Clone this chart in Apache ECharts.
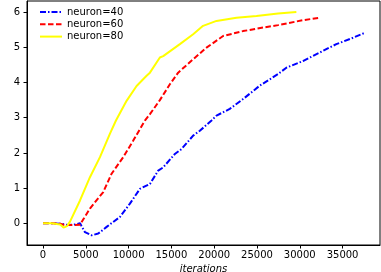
<!DOCTYPE html>
<html>
<head>
<meta charset="utf-8">
<script src="https://cdn.jsdelivr.net/npm/echarts@6/dist/echarts.min.js"></script>
<style>html,body{margin:0;padding:0;background:#fff}#c{width:381px;height:272px}</style>
</head>
<body>
<div id="c"></div>
<script>
var seriesNames = ['neuron=40', 'neuron=60', 'neuron=80'];
var xTicks = [0, 5000, 10000, 15000, 20000, 25000, 30000, 35000];
var yTicks = [0, 1, 2, 3, 4, 5, 6];

var x40 = [0,1000,2000,3000,3800,4320,4900,5680,6450,7430,8980,10150,11320,12490,13460,14040,15400,16180,17540,18320,19690,20270,21820,23370,25320,27460,28430,30370,32320,34270,36210,37490];
var y40 = [0,0,-0.01,-0.05,-0.03,0,-0.25,-0.34,-0.29,-0.1,0.18,0.56,0.98,1.12,1.5,1.59,1.97,2.11,2.49,2.63,2.92,3.06,3.25,3.53,3.91,4.24,4.42,4.61,4.85,5.09,5.27,5.40];

var x60 = [0,1000,2000,2340,3000,4320,4800,5480,7040,8010,9370,10540,11900,12490,13650,14820,15790,17540,19100,21040,23370,25710,27460,30370,32320];
var y60 = [0,0,-0.01,-0.04,-0.05,-0.04,0.15,0.42,0.89,1.41,1.88,2.35,2.92,3.1,3.5,3.95,4.28,4.66,4.99,5.32,5.46,5.56,5.63,5.77,5.84];

var x80 = [0,1000,2000,2400,2800,3150,4320,5480,6650,7820,8520,9760,10930,12100,12490,13650,14040,15990,17540,18700,20270,22600,24940,27460,29600];
var y80 = [0,0,-0.03,-0.12,-0.08,0.05,0.65,1.31,1.88,2.55,2.92,3.48,3.9,4.19,4.28,4.71,4.75,5.09,5.37,5.61,5.75,5.84,5.89,5.96,6.0];

function pairs(xs, ys) { return xs.map(function (x, i) { return [x, ys[i]]; }); }

var font = 'DejaVu Sans';
var chart = echarts.init(document.getElementById('c'), null, {renderer: 'canvas'});
chart.setOption({
  animation: false,
  textStyle: {fontFamily: font},
  grid: {left: 27, right: 1, top: 1, bottom: 27, show: true, borderColor: '#000', borderWidth: 1,
         containLabel: false, outerBoundsMode: 'none'},
  legend: {
    orient: 'vertical', left: 34, top: 2, itemWidth: 22, itemHeight: 8, itemGap: 2.3,
    itemStyle: {opacity: 0},
    textStyle: {fontFamily: font, fontSize: 10, color: '#000'},
    data: seriesNames
  },
  xAxis: {
    type: 'value', min: -1875, max: 39375,
    name: 'iterations', nameLocation: 'middle', nameGap: 17,
    nameTextStyle: {fontFamily: font, fontSize: 10, fontStyle: 'italic', color: '#000'},
    axisLine: {show: true, onZero: false, lineStyle: {color: '#000', width: 1}},
    axisTick: {show: true, length: 3.5, lineStyle: {color: '#000'}, customValues: xTicks},
    axisLabel: {fontFamily: font, fontSize: 10, color: '#000', margin: 5, customValues: xTicks,
                formatter: function (v) { return String(v); }},
    splitLine: {show: false}
  },
  yAxis: {
    type: 'value', min: -0.615, max: 6.315,
    name: 'a', nameLocation: 'middle', nameGap: 24,
    nameTextStyle: {fontFamily: font, fontSize: 10, fontStyle: 'italic', color: '#000'},
    axisLine: {show: true, onZero: false, lineStyle: {color: '#000', width: 1}},
    axisTick: {show: true, length: 3.5, lineStyle: {color: '#000'}, customValues: yTicks},
    axisLabel: {fontFamily: font, fontSize: 10, color: '#000', margin: 7, customValues: yTicks,
                formatter: function (v) { return String(v); }},
    splitLine: {show: false}
  },
  series: [
    {name: seriesNames[0], type: 'line', showSymbol: false, symbol: 'none', data: pairs(x40, y40),
     itemStyle: {color: '#0000ff'}, lineStyle: {color: '#0000ff', width: 2, type: [6, 2, 1.5, 2]}},
    {name: seriesNames[1], type: 'line', showSymbol: false, symbol: 'none', data: pairs(x60, y60),
     itemStyle: {color: '#ff0000'}, lineStyle: {color: '#ff0000', width: 2, type: [5.5, 2.5]}},
    {name: seriesNames[2], type: 'line', showSymbol: false, symbol: 'none', data: pairs(x80, y80),
     itemStyle: {color: '#ffff00'}, lineStyle: {color: '#ffff00', width: 2, type: 'solid'}}
  ]
});
</script>
</body>
</html>
